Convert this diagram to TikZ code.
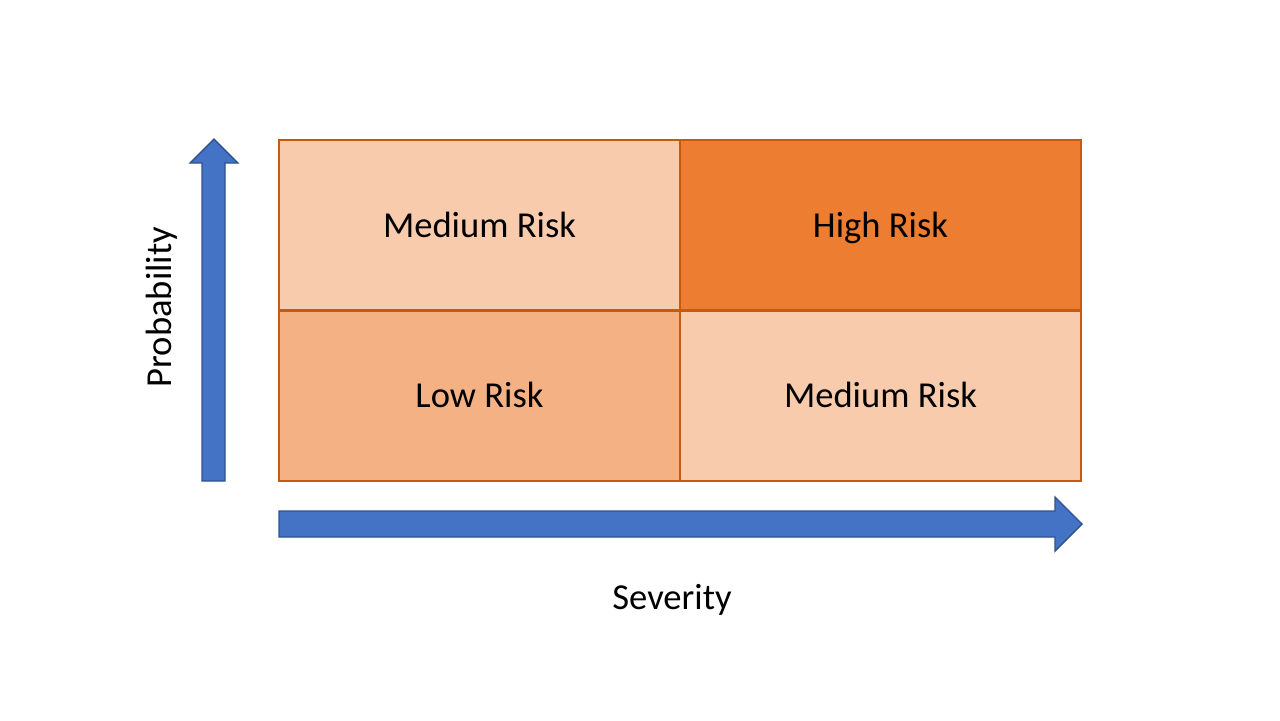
\documentclass[tikz,border=0pt]{standalone}
\usepackage{fontspec}
\setmainfont{Carlito}
\usetikzlibrary{positioning}
\definecolor{medrisk}{HTML}{F8CBAD}
\definecolor{highrisk}{HTML}{ED7D31}
\definecolor{lowrisk}{HTML}{F4B183}
\definecolor{celledge}{HTML}{C55A11}
\definecolor{axisblue}{HTML}{4472C4}
\definecolor{axisedge}{HTML}{2F528F}
\tikzset{
  cell/.style={draw=celledge,line width=0.6pt,rectangle,inner sep=0pt,
    minimum width=4.01cm,minimum height=1.705cm,align=center,
    text height=0.8em,text depth=0.12em,
    font=\fontsize{10.4}{12}\selectfont},
  axisarrow/.style={fill=axisblue,draw=axisedge,line width=0.4pt,line join=miter},
  axislabel/.style={font=\fontsize{10.4}{12}\selectfont,text height=0.8em,text depth=0.12em}
}

\begin{document}
\begin{tikzpicture}[x=0.01cm,y=-0.01cm]
  \useasboundingbox[fill=white] (0,0) rectangle (1280,720);

  \node[cell,fill=medrisk] (mr1) at (479.5,225.25) {Medium Risk};
  \node[cell,fill=highrisk] (hr) at (880.5,225.25) {High Risk};
  \node[cell,fill=lowrisk] (lr) at (479.5,395.75) {Low Risk};
  \node[cell,fill=medrisk] (mr2) at (880.5,395.75) {Medium Risk};

  % axes
  \draw[axisarrow] (202,481)--(225,481)--(225,163)--(238,163)--(214,139)
    --(190,163)--(202,163)--cycle;
  \draw[axisarrow] (279,511)--(1055,511)--(1055,497)--(1082,524)--(1055,551)
    --(1055,537)--(279,537)--cycle;

  \node[axislabel,rotate=90] (prob) at (160,307) {Probability};
  \node[axislabel] (sev) at (672,598) {Severity};
\end{tikzpicture}
\end{document}
